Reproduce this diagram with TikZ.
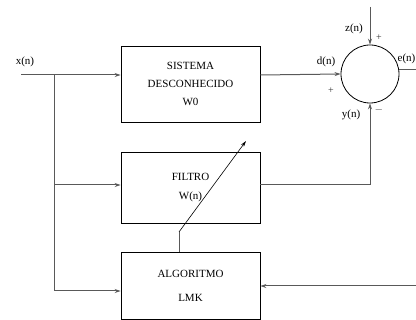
\documentclass[tikz,border=0pt]{standalone}
\usepackage{fontspec}
\setmainfont{Liberation Serif}
\usetikzlibrary{arrows.meta, positioning, calc}

\begin{document}
\begin{tikzpicture}[
    x=1pt, y=-1pt,
    font=\fontsize{11}{18}\selectfont,
    block/.style={rectangle, draw=black, line width=0.8pt, minimum width=139pt, text centered, align=center},
    wire/.style={draw=black!65, line width=1pt},
    arrow/.style={wire, -{Stealth[length=6pt, width=4pt]}},
    sign/.style={font=\fontsize{10}{10}\selectfont, text=black!80, inner sep=0pt}
]
\useasboundingbox (0,0) rectangle (416,320);

% Nodes
\node[block, minimum height=76pt] (sys) at (190.5,84) {SISTEMA\\DESCONHECIDO\\W0};
\node[block, minimum height=71pt, font=\fontsize{11}{19}\selectfont] (filt) at (190.5,187.5) {FILTRO\\W(n)};
\node[block, minimum height=67pt, font=\fontsize{11}{24}\selectfont] (alg) at (190.5,285.5) {ALGORITMO\\LMK};
\node[circle, draw=black, line width=0.8pt, minimum size=58pt, inner sep=0pt] (sum) at (370,74) {};

% Points
\coordinate (in) at (21,75);
\coordinate (split) at (54,75);
\coordinate (ztop) at (370,7);
\coordinate (eout) at (420,70);
\coordinate (fbin) at (420,286);
\coordinate (ycorner) at (370,185);
\coordinate (knee) at (179,232);
\coordinate (tip) at (246,141);

% Arrows
\draw[arrow] (in) -- (sys.west |- in);
\draw[wire] (split) -- (54,291);
\draw[arrow] (54,185) -- (filt.west |- 54,185);
\draw[arrow] (54,291) -- (alg.west |- 54,291);
\draw[arrow] (sys.east |- split) -- (sum.west);
\draw[arrow] (ztop) -- (sum.north);
\draw[wire] (filt.east |- ycorner) -- (ycorner);
\draw[arrow] (ycorner) -- (sum.south);
\draw[wire] (sum.east |- eout) -- (eout);
\draw[arrow] (fbin) -- (alg.east |- fbin);
\draw[wire] (alg.north -| knee) -- (knee);
\draw[-{Stealth[length=6pt, width=3.5pt]}, line width=0.6pt] (knee) -- (tip);

% Labels
\node (xlbl) at (25,62) {x(n)};
\node (dlbl) at (326,62) {d(n)};
\node (zlbl) at (354,29) {z(n)};
\node (ylbl) at (351,115) {y(n)};
\node[inner sep=1pt] (elbl) at (406.5,59) {e(n)};
\node[sign] (zplus) at (379,38) {+};
\node[sign] (dplus) at (331,91) {+};
\node[sign, font=\fontsize{11}{11}\selectfont] (yminus) at (379,110) {$-$};
\end{tikzpicture}
\end{document}
